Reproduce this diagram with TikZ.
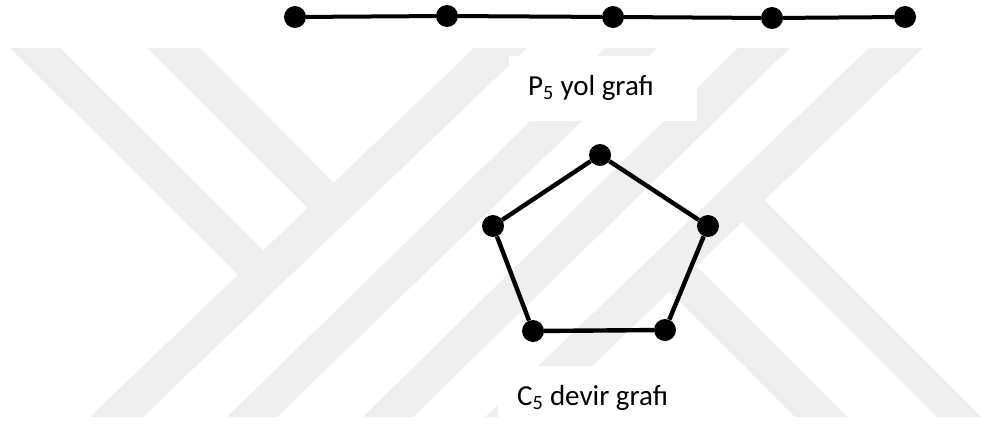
\documentclass[tikz,border=0pt]{standalone}
\usepackage{fontspec}
\setmainfont{Carlito}
\definecolor{wm}{HTML}{EFEFEF}
\begin{document}
\begin{tikzpicture}[x=1pt,y=-1pt,
  vtx/.style={circle,fill=black,inner sep=0pt,minimum size=22pt},
  pathedge/.style={line width=4pt,black},
  cycedge/.style={line width=4.4pt,black},
  band/.style={fill=wm,draw=none},
  lbl/.style={anchor=base west,inner sep=0pt,font=\fontsize{29}{35}\selectfont}]
\useasboundingbox (0,0) rectangle (981,423);
\fill[white] (0,0) rectangle (981,423);
% watermark
\begin{scope}
\clip (0,48) rectangle (981,417);
\fill[band] (10,48) -- (60,48) -- (275,262) -- (250,287) -- cycle;
\fill[band] (147,48) -- (200,48) -- (345,194) -- (320,220) -- cycle;
\fill[band] (90,417) -- (143,417) -- (527,48) -- (474,48) -- cycle;
\fill[band] (227,417) -- (277,417) -- (657,48) -- (605,48) -- cycle;
\fill[band] (363,417) -- (413,417) -- (790,48) -- (738,48) -- cycle;
\fill[band] (869,48) -- (923,48) -- (539,417) -- (485,417) -- cycle;
\fill[band] (760,196) -- (981,417) -- (937,417) -- (735,215) -- cycle;
\fill[band] (690,260) -- (847,417) -- (795,417) -- (668,290) -- cycle;
\end{scope}
% white label boxes
\fill[white] (509,56) rectangle (697,121);
\fill[white] (498,366) rectangle (745,423);
% path P5
\node[vtx] (p1) at (295,17) {};
\node[vtx] (p2) at (447,16) {};
\node[vtx] (p3) at (613,17) {};
\node[vtx] (p4) at (772,18) {};
\node[vtx] (p5) at (905,17) {};
\draw[pathedge] (p1) -- (p2) -- (p3) -- (p4) -- (p5);
\node[lbl] (lp) at (528,95) {P\textsubscript{5} yol grafı};
% cycle C5
\node[vtx] (c1) at (600,155) {};
\node[vtx] (c2) at (708,226) {};
\node[vtx] (c3) at (665,330) {};
\node[vtx] (c4) at (533,331) {};
\node[vtx] (c5) at (493,226) {};
\draw[cycedge] (c1) -- (c2) -- (c3) -- (c4) -- (c5) -- (c1);
\node[lbl] (lc) at (517,405) {C\textsubscript{5} devir grafı};
\end{tikzpicture}
\end{document}
